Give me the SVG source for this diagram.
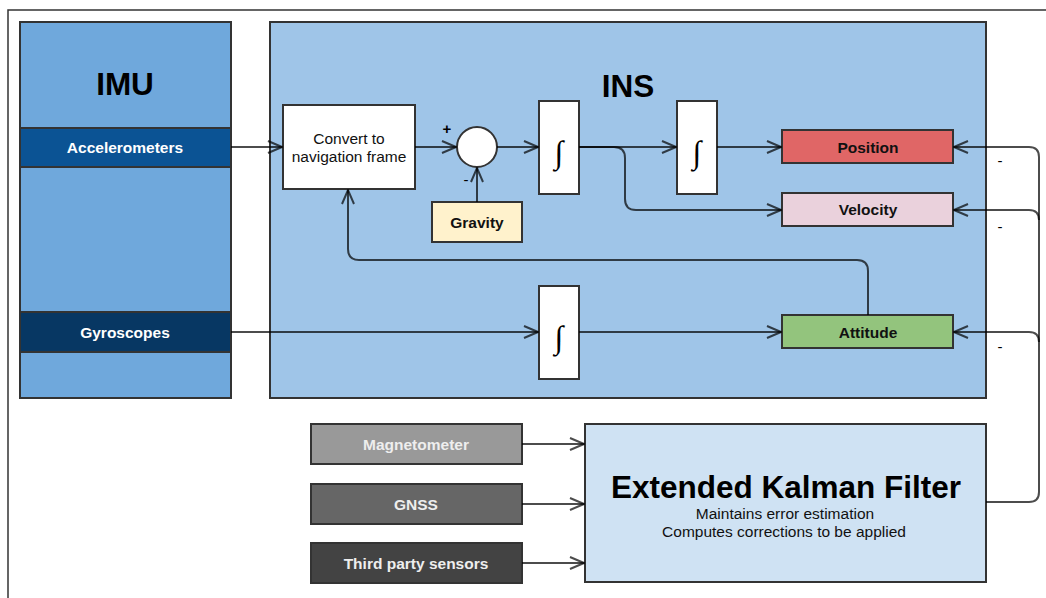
<svg xmlns="http://www.w3.org/2000/svg" width="1046" height="598" viewBox="0 0 1046 598">
  <style>
    .box { stroke: #333333; stroke-width: 2; }
    .lbl { font-family: "Liberation Sans", Arial, sans-serif; font-weight: bold; font-size: 15.5px; text-anchor: middle; dominant-baseline: central; }
    .txt { font-family: "Liberation Sans", Arial, sans-serif; font-size: 15.5px; text-anchor: middle; dominant-baseline: central; fill: #111; }
    .big { font-family: "Liberation Sans", Arial, sans-serif; font-weight: bold; font-size: 31.5px; text-anchor: middle; dominant-baseline: central; fill: #000; }
    .int { font-family: "Liberation Serif", "DejaVu Serif", serif; font-size: 32px; text-anchor: middle; dominant-baseline: central; fill: #000; }
    .wire { fill: none; stroke: #000000; stroke-opacity: 0.7; stroke-width: 2; }
    .sign { font-family: "Liberation Sans", Arial, sans-serif; font-size: 15px; font-weight: bold; text-anchor: middle; dominant-baseline: central; fill: #000; }
    .neg { font-family: "Liberation Sans", Arial, sans-serif; font-size: 15px; text-anchor: middle; dominant-baseline: central; fill: #000; }
  </style>
  <defs>
    <marker id="open" viewBox="0 0 16 14" refX="15" refY="7" markerWidth="16" markerHeight="14" markerUnits="userSpaceOnUse" orient="auto">
      <path d="M1,1 L15,7 L1,13" fill="none" stroke="#000" stroke-opacity="0.7" stroke-width="2"/>
    </marker>
  </defs>

  <rect x="0" y="0" width="1046" height="598" fill="#ffffff"/>
  <!-- outer frame -->
  <rect x="8" y="10" width="1060" height="600" fill="none" stroke="#333" stroke-width="1.5"/>

  <!-- IMU -->
  <g id="imu">
    <rect class="box" x="20" y="22" width="211" height="376" fill="#6fa8dc"/>
    <text class="big" x="125" y="84">IMU</text>
  </g>
  <g id="accelerometers">
    <rect class="box" x="20" y="128" width="211" height="39" fill="#0b5394"/>
    <text class="lbl" x="125" y="147" fill="#ffffff">Accelerometers</text>
  </g>
  <g id="gyroscopes">
    <rect class="box" x="20" y="312" width="211" height="40" fill="#073763"/>
    <text class="lbl" x="125" y="332" fill="#ffffff">Gyroscopes</text>
  </g>

  <!-- INS -->
  <g id="ins">
    <rect class="box" x="270" y="22" width="716" height="376" fill="#9fc5e8"/>
    <text class="big" x="628" y="86">INS</text>
  </g>
  <g id="convert">
    <rect class="box" x="283" y="105" width="132" height="84" fill="#ffffff"/>
    <text class="txt" x="349" y="138">Convert to</text>
    <text class="txt" x="349" y="156">navigation frame</text>
  </g>
  <g id="sum">
    <circle class="box" cx="477" cy="147" r="20" fill="#ffffff"/>
    <text class="sign" x="447" y="128">+</text>
    <text class="neg" x="466" y="179">-</text>
  </g>
  <g id="gravity">
    <rect class="box" x="432" y="202" width="90" height="40" fill="#fff2cc"/>
    <text class="lbl" x="477" y="222" fill="#111">Gravity</text>
  </g>
  <g id="integrator-1">
    <rect class="box" x="539" y="101" width="40" height="93" fill="#ffffff"/>
    <text class="int" x="559" y="152">∫</text>
  </g>
  <g id="integrator-2">
    <rect class="box" x="677" y="101" width="40" height="93" fill="#ffffff"/>
    <text class="int" x="697" y="152">∫</text>
  </g>
  <g id="integrator-3">
    <rect class="box" x="539" y="286" width="40" height="93" fill="#ffffff"/>
    <text class="int" x="559" y="337">∫</text>
  </g>
  <g id="position">
    <rect class="box" x="782" y="130" width="171" height="33" fill="#e06666"/>
    <text class="lbl" x="868" y="147" fill="#111">Position</text>
  </g>
  <g id="velocity">
    <rect class="box" x="782" y="193" width="171" height="33" fill="#ead1dc"/>
    <text class="lbl" x="868" y="209" fill="#111">Velocity</text>
  </g>
  <g id="attitude">
    <rect class="box" x="782" y="315" width="171" height="33" fill="#93c47d"/>
    <text class="lbl" x="868" y="332" fill="#111">Attitude</text>
  </g>

  <!-- aiding sensors -->
  <g id="magnetometer">
    <rect class="box" x="311" y="424" width="211" height="40" fill="#999999"/>
    <text class="lbl" x="416" y="444" fill="#eeeeee">Magnetometer</text>
  </g>
  <g id="gnss">
    <rect class="box" x="311" y="484" width="211" height="40" fill="#666666"/>
    <text class="lbl" x="416" y="504" fill="#eeeeee">GNSS</text>
  </g>
  <g id="third-party">
    <rect class="box" x="311" y="543" width="211" height="40" fill="#434343"/>
    <text class="lbl" x="416" y="563" fill="#eeeeee">Third party sensors</text>
  </g>
  <g id="ekf">
    <rect class="box" x="585" y="424" width="401" height="158" fill="#cfe2f3"/>
    <text class="big" x="786" y="487">Extended Kalman Filter</text>
    <text class="txt" x="785" y="513">Maintains error estimation</text>
    <text class="txt" x="784" y="531">Computes corrections to be applied</text>
  </g>

  <!-- connectors -->
  <g id="connectors">
    <path class="wire" d="M231,147 H282" marker-end="url(#open)"/>
    <path class="wire" d="M415,147 H456" marker-end="url(#open)"/>
    <path class="wire" d="M497,147 H538" marker-end="url(#open)"/>
    <path class="wire" d="M477,202 V168" marker-end="url(#open)"/>
    <path class="wire" d="M579,147 H676" marker-end="url(#open)"/>
    <path class="wire" d="M579,147 H614 Q625,147 625,158 V199 Q625,210 636,210 H781" marker-end="url(#open)"/>
    <path class="wire" d="M717,147 H781" marker-end="url(#open)"/>
    <path class="wire" d="M868,315 V271 Q868,260 857,260 H359 Q348,260 348,249 V190" marker-end="url(#open)"/>
    <path class="wire" d="M231,332 H538" marker-end="url(#open)"/>
    <path class="wire" d="M579,332 H781" marker-end="url(#open)"/>
    <path class="wire" d="M522,444 H584" marker-end="url(#open)"/>
    <path class="wire" d="M522,504 H584" marker-end="url(#open)"/>
    <path class="wire" d="M522,563 H584" marker-end="url(#open)"/>
    <!-- correction feedback bus -->
    <path class="wire" d="M986,502 H1029 Q1039,502 1039,492 V157 Q1039,147 1029,147 H954" marker-end="url(#open)"/>
    <path class="wire" d="M1039,220 Q1039,210 1029,210 H954" marker-end="url(#open)"/>
    <path class="wire" d="M1039,342 Q1039,332 1029,332 H954" marker-end="url(#open)"/>
    <text class="neg" x="1000" y="160">-</text>
    <text class="neg" x="1000" y="226">-</text>
    <text class="neg" x="1000" y="346">-</text>
  </g>
</svg>
